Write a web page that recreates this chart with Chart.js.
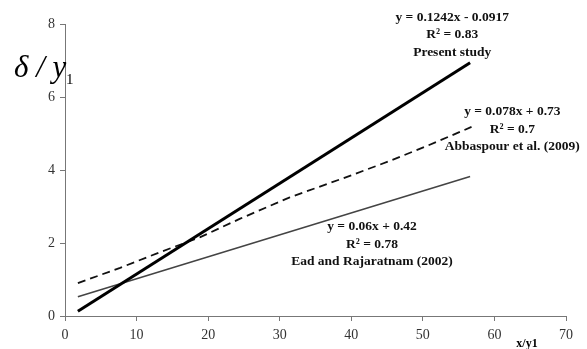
<!DOCTYPE html>
<html><head><meta charset="utf-8">
<script src="https://cdn.jsdelivr.net/npm/chart.js@4"></script>
<style>html,body{margin:0;padding:0;background:#fff}#wrap{width:587px;height:349px;position:relative}</style>
</head><body><div id="wrap"><canvas id="c" width="587" height="349"></canvas></div>
<script>
const xTicks = [0, 10, 20, 30, 40, 50, 60, 70];
const yTicks = [0, 2, 4, 6, 8];
const presentX = [1.8, 56.6];
const presentY = [0.13, 6.94];
const abbaspourX = [1.8, 7.7, 13.3, 18.9, 24.4, 31.4, 39.8, 45.4, 50.6, 56.8];
const abbaspourY = [0.90, 1.32, 1.75, 2.16, 2.66, 3.25, 3.84, 4.25, 4.66, 5.18];
const eadX = [1.8, 56.6];
const eadY = [0.53, 3.82];
const labels = [
  {x: 54.1, y: 8.19, lines: ['y = 0.1242x - 0.0917', 'R\u00b2 = 0.83', 'Present study']},
  {x: 62.5, y: 5.59, lines: ['y = 0.078x + 0.73', 'R\u00b2 = 0.7', 'Abbaspour et al. (2009)']},
  {x: 42.9, y: 2.44, lines: ['y = 0.06x + 0.42', 'R\u00b2 = 0.78', 'Ead and Rajaratnam (2002)']}
];
const pts = (xs, ys) => xs.map((x, i) => ({x, y: ys[i]}));

const annot = {
  id: 'annot',
  afterDraw(chart) {
    const ctx = chart.ctx, xs = chart.scales.x, ys = chart.scales.y;
    ctx.save();
    ctx.fillStyle = '#111';
    ctx.font = 'bold 13.5px "Liberation Serif", serif';
    ctx.textAlign = 'center';
    ctx.textBaseline = 'middle';
    labels.forEach(l => {
      const px = xs.getPixelForValue(l.x), py = ys.getPixelForValue(l.y);
      l.lines.forEach((t, i) => ctx.fillText(t, px, py + i * 17.5));
    });
    // y axis title
    ctx.textAlign = 'left';
    ctx.textBaseline = 'alphabetic';
    ctx.fillStyle = '#000';
    ctx.font = 'italic 31px "Liberation Serif", serif';
    ctx.fillText('\u03b4 / y', 14, 77);
    ctx.font = '15px "Liberation Serif", serif';
    ctx.fillText('1', 66, 84);
    // x axis title
    ctx.font = 'bold 12px "Liberation Serif", serif';
    ctx.textAlign = 'center';
    ctx.fillText('x/y1', 527, 347);
    ctx.restore();
  }
};

new Chart(document.getElementById('c'), {
  type: 'scatter',
  data: {
    datasets: [
      {data: pts(presentX, presentY), showLine: true, borderColor: '#000', borderWidth: 3, pointRadius: 0},
      {data: pts(abbaspourX, abbaspourY), showLine: true, borderColor: '#111', borderWidth: 1.8, borderDash: [8, 5], pointRadius: 0},
      {data: pts(eadX, eadY), showLine: true, borderColor: '#444', borderWidth: 1.6, pointRadius: 0}
    ]
  },
  options: {
    responsive: false,
    animation: false,
    layout: {padding: {top: 24, right: 21, left: 0, bottom: 0}},
    plugins: {legend: {display: false}, tooltip: {enabled: false}},
    scales: {
      x: {
        type: 'linear', min: 0, max: 70,
        afterBuildTicks: s => { s.ticks = xTicks.map(v => ({value: v})); },
        afterFit: s => { s.height = 33; },
        grid: {drawOnChartArea: false, drawTicks: true, tickLength: 5, color: '#777'},
        border: {color: '#777', width: 1},
        ticks: {color: '#333', font: {family: '"Liberation Serif", serif', size: 14}, padding: 6, maxRotation: 0}
      },
      y: {
        type: 'linear', min: 0, max: 8,
        afterBuildTicks: s => { s.ticks = yTicks.map(v => ({value: v})); },
        afterFit: s => { s.width = 65; },
        grid: {drawOnChartArea: false, drawTicks: true, tickLength: 5, color: '#777'},
        border: {color: '#777', width: 1},
        ticks: {color: '#333', font: {family: '"Liberation Serif", serif', size: 14}, padding: 5}
      }
    }
  },
  plugins: [annot]
});
</script>
</body></html>
